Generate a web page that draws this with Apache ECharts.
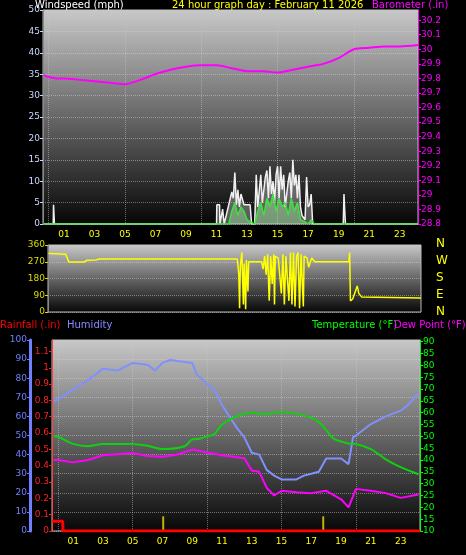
<!DOCTYPE html>
<html><head><meta charset="utf-8">
<script src="https://cdn.jsdelivr.net/npm/echarts@6/dist/echarts.min.js"></script>
<style>html,body{margin:0;background:#000}#c{width:466px;height:555px}</style>
</head><body><div id="c"></div>
<script>
// hour-of-day values
var hourLabels = [1,3,5,7,9,11,13,15,17,19,21,23];

var windGust = [[-0.3,0],[0.3,0],[0.32,4.5],[0.38,0],[11,0],[11.02,4.5],[11.2,4.5],[11.22,0],[11.4,3.5],[11.5,0],[12,7.5],[12.1,6],[12.2,12],[12.3,4.5],[12.4,8],[12.5,4],[12.6,7],[12.8,4.5],[13.2,4.5],[13.3,0],[13.5,0],[13.6,11.5],[13.7,4],[13.9,11.5],[14,5],[14.1,8],[14.2,11],[14.3,12.5],[14.4,6],[14.5,13.5],[14.6,7],[14.7,10],[14.8,5],[14.9,11.5],[15,13.5],[15.1,6],[15.2,13.5],[15.3,8],[15.4,11.5],[15.5,4],[15.7,10],[15.8,12],[15.9,6],[16,15],[16.1,9],[16.2,11.5],[16.3,6],[16.4,11.5],[16.5,4],[16.6,2],[16.8,1],[16.9,11],[17,4],[17.1,4.5],[17.2,7],[17.3,0],[19.3,0],[19.35,7],[19.4,3],[19.45,0],[24.2,0]];
var windAvg = [[-0.3,0],[11.8,0],[12,3],[12.2,5],[12.4,2],[12.6,4],[12.8,3],[13,1],[13.2,0.5],[13.5,0],[13.7,3],[13.9,5],[14.1,2],[14.3,6],[14.5,4],[14.7,7],[14.9,3],[15.1,6],[15.3,4],[15.5,5],[15.7,2],[15.9,6],[16.1,3],[16.3,5],[16.5,1],[16.8,0.5],[17,0],[17.2,1],[17.4,0],[24.2,0]];
var baro = [[-0.3,29.82],[0,29.81],[0.5,29.80],[1,29.80],[2,29.79],[3,29.78],[4,29.77],[5,29.76],[6,29.79],[7,29.83],[8,29.86],[9,29.88],[10,29.89],[10.5,29.89],[11,29.89],[12,29.87],[13,29.85],[14,29.85],[15,29.84],[16,29.86],[17,29.88],[17.5,29.89],[18,29.90],[19,29.94],[20,30.00],[21,30.01],[22,30.02],[23,30.02],[24.2,30.03]];
var windDir = [[-0.35,315],[0.8,310],[1,268],[2,268],[2.2,278],[2.8,280],[3,285],[12.1,285],[12.2,200],[12.25,20],[12.3,250],[12.4,320],[12.5,40],[12.55,260],[12.65,15],[12.7,280],[12.8,110],[12.85,270],[13,270],[13.7,270],[13.8,230],[13.9,300],[14,200],[14.1,310],[14.2,60],[14.3,300],[14.4,150],[14.5,310],[14.55,40],[14.6,300],[14.8,290],[15,100],[15.1,310],[15.2,40],[15.3,300],[15.5,60],[15.6,320],[15.7,40],[15.8,320],[15.9,30],[16,300],[16.1,320],[16.2,20],[16.3,310],[16.45,30],[16.5,300],[16.7,290],[16.8,240],[17,290],[17.2,270],[19.45,270],[19.5,320],[19.55,60],[19.7,70],[19.8,60],[20,140],[20.1,100],[20.3,80],[24.2,75]];
var humidity = [[-0.3,68],[0,69],[1,74],[2,79],[3,85],[4,84],[5,88],[6,87],[6.5,84],[7,88],[7.5,89.5],[9,88],[9.3,82],[10,77],[10.5,74],[11,66],[12,54],[12.5,49],[13,41],[13.5,40],[14,32],[14.5,29],[15,27],[16,27],[16.5,29],[17,30],[17.5,31],[18,38],[19,38],[19.5,35],[19.8,49],[20,50],[21,56],[22,60],[23,63],[23.5,66],[24.2,72]];
var temperature = [[-0.3,50],[0,49.8],[1,46.8],[2,45.8],[3,46.8],[5,46.8],[6,46],[7,44.6],[8.5,45.8],[9,48.7],[9.5,49],[10,50],[10.5,51],[11,55],[12,58.5],[13,60],[14,59.3],[15,60.3],[16,59.6],[17,57.8],[17.5,56],[18,52.7],[18.5,49],[19.5,47],[20,46.8],[21,44.6],[22,40.3],[23,37],[24.2,34]];
var dewPoint = [[-0.3,40],[0,40],[1,39],[2,40],[3,42],[5,43],[6,41.7],[7,41.4],[8,42.3],[9,44.4],[10,43.2],[11,42],[12.5,40.7],[13,35.6],[13.5,35],[14,28.3],[14.5,25],[15,27],[16,26.4],[17,26],[18,27],[19,23.4],[19.5,20],[20,27.8],[21,27],[22,26],[23,24],[24.2,25.4]];
var rainfall = [[-0.4,0.06],[0.3,0.06],[0.32,0],[24.3,0]];
var rainRate = [[7.05,0.09],[17.8,0.09]];
var compass = ['N','W','S','E','N'];

var gridBg = {type:'linear',x:0,y:0,x2:0,y2:1,colorStops:[{offset:0,color:'#c8c8c8'},{offset:1,color:'#060606'}]};
var dotted = {show:true,lineStyle:{color:'rgba(200,200,200,0.5)',type:'dotted'}};

function xAxis(idx, min, max, labels) {
  return {type:'value',gridIndex:idx,min:min,max:max,
    axisLine:{show:false},
    axisTick:{show:false},
    splitLine:{show:false},
    axisLabel:{show:labels,customValues:hourLabels,color:'#ffff00',fontSize:9,margin:6,
      formatter:function(v){return (v<10?'0':'')+v;}}};
}
function yAxis(idx, o) {
  var base = {type:'value',gridIndex:idx,
    axisLine:{show:true,onZero:false,lineStyle:{color:o.lineColor||o.color,width:o.lineWidth||1}},
    axisTick:{show:true,length:3,lineStyle:{color:o.color}},
    splitLine:o.split?{show:true,lineStyle:{color:'rgba(220,220,220,0.45)',type:'dotted'}}:{show:false},
    axisLabel:{color:o.color,fontSize:9,margin:3,showMaxLabel:o.showMax!==false}};
  for (var k in o) if (['color','lineColor','lineWidth','split','showMax','fmt'].indexOf(k)<0) base[k]=o[k];
  if (o.fmt) base.axisLabel.formatter = function(v){return +v.toFixed(1)+'';};
  return base;
}

var chart = echarts.init(document.getElementById('c'));
chart.setOption({
  backgroundColor:'#000',
  animation:false,
  textStyle:{fontFamily:'DejaVu Sans'},
  graphic:[
    {type:'text',left:35,top:0,style:{text:'Windspeed (mph)',fill:'#fff',font:'10px DejaVu Sans'}},
    {type:'text',left:172,top:0,style:{text:'24 hour graph day : February 11 2026',fill:'#ffff00',font:'10px DejaVu Sans'}},
    {type:'text',left:372,top:0,style:{text:'Barometer (.in)',fill:'#ff00ff',font:'10px DejaVu Sans'}},
    {type:'text',left:0,top:320,style:{text:'Rainfall (.in)',fill:'#ff0000',font:'10px DejaVu Sans'}},
    {type:'text',left:67,top:320,style:{text:'Humidity',fill:'#8888ff',font:'10px DejaVu Sans'}},
    {type:'text',left:312,top:320,style:{text:'Temperature (°F)',fill:'#00ff00',font:'10px DejaVu Sans'}},
    {type:'text',left:394,top:320,style:{text:'Dew Point (°F)',fill:'#ff00ff',font:'10px DejaVu Sans'}}
  ].concat(compass.map(function(c,i){
    return {type:'text',left:436,top:238+i*17,style:{text:c,fill:'#ffff00',font:'12px DejaVu Sans'}};
  })),
  grid:[
    {left:43,right:48,top:10,height:214,show:true,backgroundColor:gridBg,borderColor:'#bbb',borderWidth:1},
    {left:48,right:45,top:245,height:67,show:true,backgroundColor:gridBg,borderColor:'#bbb',borderWidth:1},
    {left:52,right:46,top:340,height:191,show:true,backgroundColor:gridBg,borderColor:'#bbb',borderWidth:1}
  ],
  xAxis:[
    Object.assign(xAxis(0,-0.37,24.2,true),{splitLine:dotted}),
    xAxis(1,-0.37,24.2,false),
    Object.assign(xAxis(2,-0.42,24.3,true),{splitLine:dotted})
  ],
  yAxis:[
    yAxis(0,{min:0,max:50,interval:5,color:'#c8d8ff',lineColor:'#888',split:true}),
    yAxis(0,{min:28.8,max:30.27,interval:0.1,position:'right',color:'#ff00ff',showMax:false,fmt:true}),
    yAxis(1,{min:0,max:360,interval:90,color:'#dddd00',lineColor:'#888',split:true}),
    yAxis(2,{min:0,max:100,interval:10,position:'left',offset:22,color:'#7080ff',lineWidth:3,split:true}),
    yAxis(2,{min:0,max:1.17,interval:0.1,position:'left',color:'#ff2020',lineColor:'#ff4040',showMax:false,fmt:true}),
    yAxis(2,{min:10,max:90.7,interval:5,position:'right',color:'#00ff00',showMax:false})
  ],
  series:[
    {type:'line',xAxisIndex:0,yAxisIndex:0,data:windGust,symbol:'none',
      lineStyle:{color:'#f0f0f0',width:1.5},areaStyle:{color:'rgba(200,200,200,0.6)'}},
    {type:'line',xAxisIndex:0,yAxisIndex:0,data:windAvg,symbol:'none',
      lineStyle:{color:'#40e040',width:1.5},areaStyle:{color:'rgba(170,255,170,0.55)'}},
    {type:'line',xAxisIndex:0,yAxisIndex:1,data:baro,symbol:'none',smooth:0.3,
      lineStyle:{color:'#ff00ff',width:2}},
    {type:'line',xAxisIndex:1,yAxisIndex:2,data:windDir,symbol:'none',
      lineStyle:{color:'#ffff00',width:1.5}},
    {type:'line',xAxisIndex:2,yAxisIndex:3,data:humidity,symbol:'none',
      lineStyle:{color:'#8090ff',width:2}},
    {type:'line',xAxisIndex:2,yAxisIndex:5,data:temperature,symbol:'none',smooth:0.3,
      lineStyle:{color:'#10d010',width:2}},
    {type:'line',xAxisIndex:2,yAxisIndex:5,data:dewPoint,symbol:'none',
      lineStyle:{color:'#ff00ff',width:2}},
    {type:'line',xAxisIndex:2,yAxisIndex:4,data:rainfall,symbol:'none',
      lineStyle:{color:'#ff0000',width:3}},
    {type:'bar',xAxisIndex:2,yAxisIndex:4,data:rainRate,barWidth:2,
      itemStyle:{color:'#c8b000'}}
  ]
});
</script></body></html>
